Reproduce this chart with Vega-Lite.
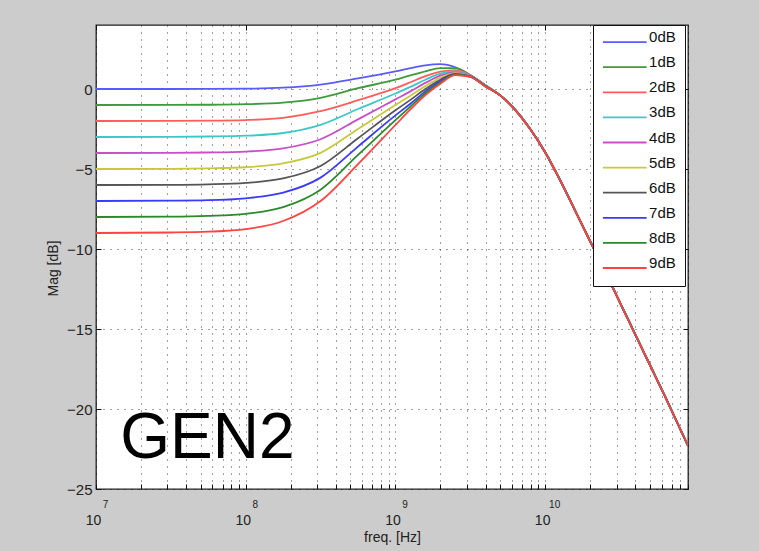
{
  "$schema": "https://vega.github.io/schema/vega-lite/v6.json",
  "width": 592,
  "height": 464,
  "autosize": {"type": "none"},
  "padding": {"left": 96, "top": 25, "right": 71, "bottom": 62},
  "background": "#cccccc",
  "config": {
    "font": "Liberation Sans",
    "view": {"fill": "#ffffff", "stroke": "#222222", "strokeWidth": 1.3},
    "axis": {"labelFont": "Liberation Sans", "titleFont": "Liberation Sans", "labelColor": "#222222", "tickColor": "#111111", "titleFontWeight": "normal", "titleColor": "#222222"}
  },
  "datasets": {
    "curves": [
      {"s":"0dB","f":1e7,"m":0},{"s":"0dB","f":3.162e7,"m":0},{"s":"0dB","f":5.623e7,"m":0.01},{"s":"0dB","f":1e8,"m":0.02},{"s":"0dB","f":1.778e8,"m":0.08},{"s":"0dB","f":3.162e8,"m":0.27},{"s":"0dB","f":5.623e8,"m":0.66},{"s":"0dB","f":1e9,"m":1.1},{"s":"0dB","f":1.259e9,"m":1.3},{"s":"0dB","f":1.585e9,"m":1.48},{"s":"0dB","f":1.995e9,"m":1.55},{"s":"0dB","f":2.512e9,"m":1.36},{"s":"0dB","f":3.162e9,"m":0.88},{"s":"0dB","f":3.981e9,"m":0.25},
      {"s":"0dB","f":5.012e9,"m":-0.4},{"s":"0dB","f":6.31e9,"m":-1.3},{"s":"0dB","f":7.943e9,"m":-2.5},{"s":"0dB","f":1e10,"m":-3.95},{"s":"0dB","f":1.259e10,"m":-5.7},{"s":"0dB","f":1.585e10,"m":-7.6},{"s":"0dB","f":1.995e10,"m":-9.5},{"s":"0dB","f":2.512e10,"m":-11.4},{"s":"0dB","f":3.162e10,"m":-13.35},{"s":"0dB","f":3.981e10,"m":-15.3},{"s":"0dB","f":5.012e10,"m":-17.25},{"s":"0dB","f":6.31e10,"m":-19.2},{"s":"0dB","f":9e10,"m":-22.3},
      {"s":"1dB","f":1e7,"m":-1},{"s":"1dB","f":3.162e7,"m":-0.995},{"s":"1dB","f":5.623e7,"m":-0.985},{"s":"1dB","f":1e8,"m":-0.95},{"s":"1dB","f":1.778e8,"m":-0.85},{"s":"1dB","f":3.162e8,"m":-0.55},{"s":"1dB","f":5.623e8,"m":0.05},{"s":"1dB","f":1e9,"m":0.58},{"s":"1dB","f":1.259e9,"m":0.85},{"s":"1dB","f":1.585e9,"m":1.1},{"s":"1dB","f":1.995e9,"m":1.3},{"s":"1dB","f":2.512e9,"m":1.3},{"s":"1dB","f":3.162e9,"m":0.87},{"s":"1dB","f":3.981e9,"m":0.24},
      {"s":"1dB","f":5.012e9,"m":-0.4},{"s":"1dB","f":6.31e9,"m":-1.3},{"s":"1dB","f":7.943e9,"m":-2.5},{"s":"1dB","f":1e10,"m":-3.95},{"s":"1dB","f":1.259e10,"m":-5.7},{"s":"1dB","f":1.585e10,"m":-7.6},{"s":"1dB","f":1.995e10,"m":-9.5},{"s":"1dB","f":2.512e10,"m":-11.4},{"s":"1dB","f":3.162e10,"m":-13.35},{"s":"1dB","f":3.981e10,"m":-15.3},{"s":"1dB","f":5.012e10,"m":-17.25},{"s":"1dB","f":6.31e10,"m":-19.2},{"s":"1dB","f":9e10,"m":-22.3},
      {"s":"2dB","f":1e7,"m":-2},{"s":"2dB","f":3.162e7,"m":-1.99},{"s":"2dB","f":5.623e7,"m":-1.98},{"s":"2dB","f":1e8,"m":-1.94},{"s":"2dB","f":1.778e8,"m":-1.8},{"s":"2dB","f":3.162e8,"m":-1.39},{"s":"2dB","f":5.623e8,"m":-0.7},{"s":"2dB","f":1e9,"m":0.05},{"s":"2dB","f":1.259e9,"m":0.42},{"s":"2dB","f":1.585e9,"m":0.8},{"s":"2dB","f":1.995e9,"m":1.08},{"s":"2dB","f":2.512e9,"m":1.18},{"s":"2dB","f":3.162e9,"m":0.86},{"s":"2dB","f":3.981e9,"m":0.23},
      {"s":"2dB","f":5.012e9,"m":-0.4},{"s":"2dB","f":6.31e9,"m":-1.3},{"s":"2dB","f":7.943e9,"m":-2.5},{"s":"2dB","f":1e10,"m":-3.95},{"s":"2dB","f":1.259e10,"m":-5.7},{"s":"2dB","f":1.585e10,"m":-7.6},{"s":"2dB","f":1.995e10,"m":-9.5},{"s":"2dB","f":2.512e10,"m":-11.4},{"s":"2dB","f":3.162e10,"m":-13.35},{"s":"2dB","f":3.981e10,"m":-15.3},{"s":"2dB","f":5.012e10,"m":-17.25},{"s":"2dB","f":6.31e10,"m":-19.2},{"s":"2dB","f":9e10,"m":-22.3},
      {"s":"3dB","f":1e7,"m":-3},{"s":"3dB","f":3.162e7,"m":-2.99},{"s":"3dB","f":5.623e7,"m":-2.97},{"s":"3dB","f":1e8,"m":-2.92},{"s":"3dB","f":1.778e8,"m":-2.75},{"s":"3dB","f":3.162e8,"m":-2.24},{"s":"3dB","f":5.623e8,"m":-1.25},{"s":"3dB","f":1e9,"m":-0.28},{"s":"3dB","f":1.259e9,"m":0.13},{"s":"3dB","f":1.585e9,"m":0.58},{"s":"3dB","f":1.995e9,"m":0.96},{"s":"3dB","f":2.512e9,"m":1.1},{"s":"3dB","f":3.162e9,"m":0.84},{"s":"3dB","f":3.981e9,"m":0.22},
      {"s":"3dB","f":5.012e9,"m":-0.4},{"s":"3dB","f":6.31e9,"m":-1.3},{"s":"3dB","f":7.943e9,"m":-2.5},{"s":"3dB","f":1e10,"m":-3.95},{"s":"3dB","f":1.259e10,"m":-5.7},{"s":"3dB","f":1.585e10,"m":-7.6},{"s":"3dB","f":1.995e10,"m":-9.5},{"s":"3dB","f":2.512e10,"m":-11.4},{"s":"3dB","f":3.162e10,"m":-13.35},{"s":"3dB","f":3.981e10,"m":-15.3},{"s":"3dB","f":5.012e10,"m":-17.25},{"s":"3dB","f":6.31e10,"m":-19.2},{"s":"3dB","f":9e10,"m":-22.3},
      {"s":"4dB","f":1e7,"m":-4},{"s":"4dB","f":3.162e7,"m":-3.99},{"s":"4dB","f":5.623e7,"m":-3.97},{"s":"4dB","f":1e8,"m":-3.91},{"s":"4dB","f":1.778e8,"m":-3.71},{"s":"4dB","f":3.162e8,"m":-3.14},{"s":"4dB","f":5.623e8,"m":-1.9},{"s":"4dB","f":1e9,"m":-0.65},{"s":"4dB","f":1.259e9,"m":-0.15},{"s":"4dB","f":1.585e9,"m":0.38},{"s":"4dB","f":1.995e9,"m":0.83},{"s":"4dB","f":2.512e9,"m":1.04},{"s":"4dB","f":3.162e9,"m":0.82},{"s":"4dB","f":3.981e9,"m":0.21},
      {"s":"4dB","f":5.012e9,"m":-0.4},{"s":"4dB","f":6.31e9,"m":-1.3},{"s":"4dB","f":7.943e9,"m":-2.5},{"s":"4dB","f":1e10,"m":-3.95},{"s":"4dB","f":1.259e10,"m":-5.7},{"s":"4dB","f":1.585e10,"m":-7.6},{"s":"4dB","f":1.995e10,"m":-9.5},{"s":"4dB","f":2.512e10,"m":-11.4},{"s":"4dB","f":3.162e10,"m":-13.35},{"s":"4dB","f":3.981e10,"m":-15.3},{"s":"4dB","f":5.012e10,"m":-17.25},{"s":"4dB","f":6.31e10,"m":-19.2},{"s":"4dB","f":9e10,"m":-22.3},
      {"s":"5dB","f":1e7,"m":-5},{"s":"5dB","f":3.162e7,"m":-4.99},{"s":"5dB","f":5.623e7,"m":-4.96},{"s":"5dB","f":1e8,"m":-4.89},{"s":"5dB","f":1.778e8,"m":-4.65},{"s":"5dB","f":3.162e8,"m":-3.99},{"s":"5dB","f":5.623e8,"m":-2.5},{"s":"5dB","f":1e9,"m":-1.0},{"s":"5dB","f":1.259e9,"m":-0.42},{"s":"5dB","f":1.585e9,"m":0.18},{"s":"5dB","f":1.995e9,"m":0.7},{"s":"5dB","f":2.512e9,"m":0.99},{"s":"5dB","f":3.162e9,"m":0.8},{"s":"5dB","f":3.981e9,"m":0.2},
      {"s":"5dB","f":5.012e9,"m":-0.4},{"s":"5dB","f":6.31e9,"m":-1.3},{"s":"5dB","f":7.943e9,"m":-2.5},{"s":"5dB","f":1e10,"m":-3.95},{"s":"5dB","f":1.259e10,"m":-5.7},{"s":"5dB","f":1.585e10,"m":-7.6},{"s":"5dB","f":1.995e10,"m":-9.5},{"s":"5dB","f":2.512e10,"m":-11.4},{"s":"5dB","f":3.162e10,"m":-13.35},{"s":"5dB","f":3.981e10,"m":-15.3},{"s":"5dB","f":5.012e10,"m":-17.25},{"s":"5dB","f":6.31e10,"m":-19.2},{"s":"5dB","f":9e10,"m":-22.3},
      {"s":"6dB","f":1e7,"m":-6},{"s":"6dB","f":3.162e7,"m":-5.99},{"s":"6dB","f":5.623e7,"m":-5.96},{"s":"6dB","f":1e8,"m":-5.87},{"s":"6dB","f":1.778e8,"m":-5.59},{"s":"6dB","f":3.162e8,"m":-4.81},{"s":"6dB","f":5.623e8,"m":-3.08},{"s":"6dB","f":1e9,"m":-1.33},{"s":"6dB","f":1.259e9,"m":-0.68},{"s":"6dB","f":1.585e9,"m":0.0},{"s":"6dB","f":1.995e9,"m":0.58},{"s":"6dB","f":2.512e9,"m":0.95},{"s":"6dB","f":3.162e9,"m":0.79},{"s":"6dB","f":3.981e9,"m":0.19},
      {"s":"6dB","f":5.012e9,"m":-0.4},{"s":"6dB","f":6.31e9,"m":-1.3},{"s":"6dB","f":7.943e9,"m":-2.5},{"s":"6dB","f":1e10,"m":-3.95},{"s":"6dB","f":1.259e10,"m":-5.7},{"s":"6dB","f":1.585e10,"m":-7.6},{"s":"6dB","f":1.995e10,"m":-9.5},{"s":"6dB","f":2.512e10,"m":-11.4},{"s":"6dB","f":3.162e10,"m":-13.35},{"s":"6dB","f":3.981e10,"m":-15.3},{"s":"6dB","f":5.012e10,"m":-17.25},{"s":"6dB","f":6.31e10,"m":-19.2},{"s":"6dB","f":9e10,"m":-22.3},
      {"s":"7dB","f":1e7,"m":-7},{"s":"7dB","f":3.162e7,"m":-6.98},{"s":"7dB","f":5.623e7,"m":-6.95},{"s":"7dB","f":1e8,"m":-6.83},{"s":"7dB","f":1.778e8,"m":-6.48},{"s":"7dB","f":3.162e8,"m":-5.54},{"s":"7dB","f":5.623e8,"m":-3.6},{"s":"7dB","f":1e9,"m":-1.65},{"s":"7dB","f":1.259e9,"m":-0.92},{"s":"7dB","f":1.585e9,"m":-0.15},{"s":"7dB","f":1.995e9,"m":0.48},{"s":"7dB","f":2.512e9,"m":0.92},{"s":"7dB","f":3.162e9,"m":0.78},{"s":"7dB","f":3.981e9,"m":0.18},
      {"s":"7dB","f":5.012e9,"m":-0.4},{"s":"7dB","f":6.31e9,"m":-1.3},{"s":"7dB","f":7.943e9,"m":-2.5},{"s":"7dB","f":1e10,"m":-3.95},{"s":"7dB","f":1.259e10,"m":-5.7},{"s":"7dB","f":1.585e10,"m":-7.6},{"s":"7dB","f":1.995e10,"m":-9.5},{"s":"7dB","f":2.512e10,"m":-11.4},{"s":"7dB","f":3.162e10,"m":-13.35},{"s":"7dB","f":3.981e10,"m":-15.3},{"s":"7dB","f":5.012e10,"m":-17.25},{"s":"7dB","f":6.31e10,"m":-19.2},{"s":"7dB","f":9e10,"m":-22.3},
      {"s":"8dB","f":1e7,"m":-8},{"s":"8dB","f":3.162e7,"m":-7.98},{"s":"8dB","f":5.623e7,"m":-7.93},{"s":"8dB","f":1e8,"m":-7.8},{"s":"8dB","f":1.778e8,"m":-7.38},{"s":"8dB","f":3.162e8,"m":-6.29},{"s":"8dB","f":5.623e8,"m":-4.12},{"s":"8dB","f":1e9,"m":-1.95},{"s":"8dB","f":1.259e9,"m":-1.1},{"s":"8dB","f":1.585e9,"m":-0.27},{"s":"8dB","f":1.995e9,"m":0.4},{"s":"8dB","f":2.512e9,"m":0.89},{"s":"8dB","f":3.162e9,"m":0.77},{"s":"8dB","f":3.981e9,"m":0.17},
      {"s":"8dB","f":5.012e9,"m":-0.4},{"s":"8dB","f":6.31e9,"m":-1.3},{"s":"8dB","f":7.943e9,"m":-2.5},{"s":"8dB","f":1e10,"m":-3.95},{"s":"8dB","f":1.259e10,"m":-5.7},{"s":"8dB","f":1.585e10,"m":-7.6},{"s":"8dB","f":1.995e10,"m":-9.5},{"s":"8dB","f":2.512e10,"m":-11.4},{"s":"8dB","f":3.162e10,"m":-13.35},{"s":"8dB","f":3.981e10,"m":-15.3},{"s":"8dB","f":5.012e10,"m":-17.25},{"s":"8dB","f":6.31e10,"m":-19.2},{"s":"8dB","f":9e10,"m":-22.3},
      {"s":"9dB","f":1e7,"m":-9},{"s":"9dB","f":3.162e7,"m":-8.97},{"s":"9dB","f":5.623e7,"m":-8.92},{"s":"9dB","f":1e8,"m":-8.76},{"s":"9dB","f":1.778e8,"m":-8.25},{"s":"9dB","f":3.162e8,"m":-7.0},{"s":"9dB","f":5.623e8,"m":-4.7},{"s":"9dB","f":1e9,"m":-2.25},{"s":"9dB","f":1.259e9,"m":-1.28},{"s":"9dB","f":1.585e9,"m":-0.38},{"s":"9dB","f":1.995e9,"m":0.33},{"s":"9dB","f":2.512e9,"m":0.87},{"s":"9dB","f":3.162e9,"m":0.76},{"s":"9dB","f":3.981e9,"m":0.16},
      {"s":"9dB","f":5.012e9,"m":-0.4},{"s":"9dB","f":6.31e9,"m":-1.3},{"s":"9dB","f":7.943e9,"m":-2.5},{"s":"9dB","f":1e10,"m":-3.95},{"s":"9dB","f":1.259e10,"m":-5.7},{"s":"9dB","f":1.585e10,"m":-7.6},{"s":"9dB","f":1.995e10,"m":-9.5},{"s":"9dB","f":2.512e10,"m":-11.4},{"s":"9dB","f":3.162e10,"m":-13.35},{"s":"9dB","f":3.981e10,"m":-15.3},{"s":"9dB","f":5.012e10,"m":-17.25},{"s":"9dB","f":6.31e10,"m":-19.2},{"s":"9dB","f":9e10,"m":-22.3}
    ],
    "anchor": [{"f": 1e7, "m": 0}],
    "note": [{"f": 1.452e7, "m": -23.08, "t": "GEN2"}]
  },
  "resolve": {"axis": {"x": "independent", "y": "independent"}},
  "layer": [
    {
      "data": {"name": "curves"},
      "mark": {"type": "line", "interpolate": "monotone", "strokeWidth": 1.8, "clip": true},
      "encoding": {
        "x": {
          "field": "f", "type": "quantitative",
          "scale": {"type": "log", "domain": [1e7, 9e10], "nice": false},
          "axis": {
            "orient": "bottom",
            "values": [1e7,2e7,3e7,4e7,5e7,6e7,7e7,8e7,9e7,1e8,2e8,3e8,4e8,5e8,6e8,7e8,8e8,9e8,1e9,2e9,3e9,4e9,5e9,6e9,7e9,8e9,9e9,1e10,2e10,3e10,4e10,5e10,6e10,7e10,8e10,9e10],
            "labels": false, "grid": true, "gridDash": [1, 6], "gridColor": "#000000", "gridOpacity": 0.75,
            "tickSize": -5, "domain": false, "title": null
          }
        },
        "y": {
          "field": "m", "type": "quantitative",
          "scale": {"domain": [-25, 4], "nice": false, "zero": false},
          "axis": {
            "orient": "left",
            "values": [-25, -20, -15, -10, -5, 0],
            "grid": true, "gridDash": [1, 6], "gridColor": "#000000", "gridOpacity": 0.75,
            "tickSize": -5, "labelPadding": 9, "labelFontSize": 15, "domain": false,
            "title": "Mag [dB]", "titleFontSize": 14, "titleAngle": -90, "titleX": -39, "titleY": 243,
            "titleBaseline": "alphabetic", "titleAlign": "center"
          }
        },
        "color": {
          "field": "s", "type": "nominal",
          "scale": {
            "domain": ["0dB","1dB","2dB","3dB","4dB","5dB","6dB","7dB","8dB","9dB"],
            "range": ["#5b5bf7","#3d9a3d","#ff5c5c","#3cc8c8","#c84fc8","#c8c83c","#555555","#3a3aff","#2a8a2a","#ff4242"]
          },
          "legend": {
            "orient": "none", "legendX": 497, "legendY": 0, "title": null,
            "fillColor": "#ffffff", "strokeColor": "#111111", "padding": 8.6,
            "symbolType": "M-1,0H5.1M-1,0.72", "symbolSize": 205, "symbolStrokeWidth": 1.8,
            "labelFontSize": 15, "labelColor": "#111111", "labelBaseline": "alphabetic",
            "labelOffset": 30.5, "rowPadding": 3.1
          }
        }
      }
    },
    {
      "data": {"name": "anchor"},
      "mark": {"type": "point", "opacity": 0},
      "encoding": {
        "x": {
          "field": "f", "type": "quantitative",
          "scale": {"type": "log", "domain": [1e7, 9e10], "nice": false},
          "axis": {
            "orient": "bottom", "values": [1e7, 1e8, 1e9, 1e10], "labelExpr": "'10'",
            "ticks": false, "grid": false, "domain": false, "labelFlush": false, "labelOverlap": false,
            "labelBaseline": "alphabetic", "labelPadding": 35, "labelFontSize": 14, "labelOffset": -3,
            "title": "freq. [Hz]", "titleFontSize": 14, "titleY": 52, "titleBaseline": "alphabetic"
          }
        },
        "y": {
          "field": "m", "type": "quantitative",
          "scale": {"domain": [-25, 4], "nice": false, "zero": false},
          "axis": {"orient": "right", "values": [-25, -20, -15, -10, -5, 0], "labels": false, "tickSize": -5, "grid": false, "domain": false, "title": null}
        }
      }
    },
    {
      "data": {"name": "anchor"},
      "mark": {"type": "point", "opacity": 0},
      "encoding": {
        "x": {
          "field": "f", "type": "quantitative",
          "scale": {"type": "log", "domain": [1e7, 9e10], "nice": false},
          "axis": {
            "orient": "bottom", "values": [1e7, 1e8, 1e9, 1e10], "labelExpr": "'' + round(log(datum.value) / LN10)",
            "ticks": false, "grid": false, "domain": false, "labelFlush": false, "labelOverlap": false,
            "labelBaseline": "alphabetic", "labelPadding": 18, "labelFontSize": 10, "labelOffset": 9, "title": null
          }
        },
        "y": {"field": "m", "type": "quantitative", "scale": {"domain": [-25, 4], "nice": false, "zero": false}, "axis": null}
      }
    },
    {
      "data": {"name": "anchor"},
      "mark": {"type": "point", "opacity": 0},
      "encoding": {
        "x": {
          "field": "f", "type": "quantitative",
          "scale": {"type": "log", "domain": [1e7, 9e10], "nice": false},
          "axis": {"orient": "top", "values": [1e7, 1e8, 1e9, 1e10], "labels": false, "tickSize": -5, "grid": false, "domain": false, "title": null}
        },
        "y": {"field": "m", "type": "quantitative", "scale": {"domain": [-25, 4], "nice": false, "zero": false}, "axis": null}
      }
    },
    {
      "data": {"name": "note"},
      "mark": {"type": "text", "fontSize": 64, "align": "left", "baseline": "alphabetic", "font": "Liberation Sans", "color": "#000000"},
      "encoding": {
        "x": {"field": "f", "type": "quantitative", "scale": {"type": "log", "domain": [1e7, 9e10], "nice": false}, "axis": null},
        "y": {"field": "m", "type": "quantitative", "scale": {"domain": [-25, 4], "nice": false, "zero": false}, "axis": null},
        "text": {"field": "t", "type": "nominal"}
      }
    }
  ]
}
